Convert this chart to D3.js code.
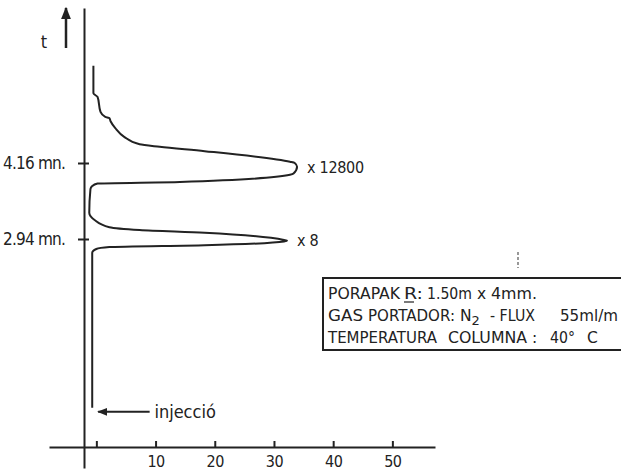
<!DOCTYPE html>
<html>
<head>
<meta charset="utf-8">
<script src="https://cdn.jsdelivr.net/npm/d3@7"></script>
<style>
  body { margin: 0; background: #fff; }
  svg text { font-family: "DejaVu Sans Condensed", "DejaVu Sans", sans-serif; fill: #222; }
  svg text.info { font-family: "DejaVu Sans", sans-serif; }
</style>
</head>
<body>
<div id="chart"></div>
<script>
const width = 621, height = 475;

// chromatogram trace: [time (min), signal]
const traceTime = [5.72, 5.28, 5.22, 4.98, 4.90, 4.88, 4.83, 4.72, 4.58, 4.46, 4.42, 4.35, 4.18, 4.16, 4.10, 3.99, 3.97, 3.855, 3.83, 3.79, 3.74, 3.36, 3.245, 3.13, 3.085, 3.04, 2.925, 2.915, 2.90, 2.84, 2.81, 2.78, 2.72, 2.60, 0.23];
const traceSignal = [-0.5, -0.5, 0.2, 0.7, 1.5, 2.2, 2.4, 3.2, 4.7, 7.3, 10.7, 18.3, 32.7, 33.5, 33.9, 33.3, 32.7, 14.1, 0.2, -0.7, -1.0, -1.2, -0.3, 2.2, 7.3, 18.3, 31.7, 32.2, 31.7, 18.3, 2.2, 0.0, -0.7, -0.7, -0.7];

const xTicks = [0, 10, 20, 30, 40, 50];
const timeTicks = [2.94, 4.16];
const timeTickLabels = ["2.94 mn.", "4.16 mn."];
const peakTimes = [4.10, 2.92];
const peakSignals = [33.9, 32.2];
const peakLabels = ["x 12800", "x 8"];
const injectionTime = 0.165;
const injectionLabel = "injecció";

// info box text, one array of words per line
const infoWords = [
  ["PORAPAK", "R:", "1.50m", "x", "4mm."],
  ["GAS", "PORTADOR:", "N", "- FLUX", "55ml/m"],
  ["TEMPERATURA", "COLUMNA", ":", "40°", "C"]
];
// layout of the words: left x and fitted width in pixels (0 = natural width)
const infoWordX = [
  [328, 404, 427, 477, 491],
  [328, 368, 460, 490, 560],
  [328, 448, 532, 550, 587]
];
const infoWordW = [
  [72, 19, 45, 0, 46],
  [35, 87, 0, 45, 58],
  [109, 79, 0, 25, 0]
];

const svg = d3.select("#chart").append("svg")
  .attr("width", width)
  .attr("height", height);

const x = d3.scaleLinear().domain([-8, 57.2]).range([49, 435]);
const y = d3.scaleLinear().domain([-0.736, 6.648]).range([468, 8]);

const ink = "#222";

// x axis
const xAxisY = 447;
const xAxis = svg.append("g")
  .attr("transform", `translate(0, ${xAxisY})`)
  .call(d3.axisBottom(x).tickValues(xTicks).tickSizeInner(-6).tickSizeOuter(0).tickPadding(9)
    .tickFormat(d => d === 0 ? "" : d));
xAxis.select(".domain").attr("stroke", ink).attr("stroke-width", 2);
xAxis.selectAll(".tick line").attr("stroke", ink).attr("stroke-width", 2);
xAxis.selectAll(".tick text").attr("font-size", 16).style("fill", ink).attr("letter-spacing", -0.5);

// y (time) axis
const yAxisX = 84;
const yAxis = svg.append("g")
  .attr("transform", `translate(${yAxisX}, 0)`)
  .call(d3.axisLeft(y).tickValues(timeTicks).tickSizeOuter(0).tickSizeInner(6).tickPadding(13)
    .tickFormat((d, i) => timeTickLabels[i]));
yAxis.select(".domain").attr("stroke", ink).attr("stroke-width", 2);
yAxis.selectAll(".tick line").attr("stroke", ink).attr("stroke-width", 2).attr("x1", 5);
yAxis.selectAll(".tick text").attr("font-size", 17).style("fill", ink).attr("letter-spacing", -0.8);

// time arrow
svg.append("defs").append("marker")
  .attr("id", "head")
  .attr("viewBox", "0 0 10 10")
  .attr("refX", 9).attr("refY", 5)
  .attr("markerWidth", 5).attr("markerHeight", 5)
  .attr("orient", "auto")
  .append("path").attr("d", "M0,1 L10,5 L0,9 Z").attr("fill", ink);

svg.append("line")
  .attr("x1", 66).attr("x2", 66)
  .attr("y1", 48).attr("y2", 8)
  .attr("stroke", ink).attr("stroke-width", 2.5)
  .attr("marker-end", "url(#head)");
svg.append("text").attr("x", 44).attr("y", 48).attr("text-anchor", "middle")
  .attr("font-size", 18).text("t");

// trace
const traceData = traceTime.map((t, i) => ({ t: t, v: traceSignal[i] }));
const line = d3.line().x(d => x(d.v)).y(d => y(d.t)).curve(d3.curveMonotoneY);
svg.append("path")
  .datum(traceData)
  .attr("d", line)
  .attr("fill", "none")
  .attr("stroke", ink)
  .attr("stroke-width", 2)
  .attr("stroke-linejoin", "round");

// peak labels
svg.selectAll(".peak-label")
  .data(peakLabels)
  .join("text")
  .attr("class", "peak-label")
  .attr("x", (d, i) => x(peakSignals[i]) + 10)
  .attr("y", (d, i) => y(peakTimes[i]) + 6)
  .attr("font-size", 16)
  .attr("letter-spacing", -0.3)
  .text(d => d);

// injection arrow
svg.append("line")
  .attr("x1", x(9)).attr("x2", x(0.3))
  .attr("y1", y(injectionTime)).attr("y2", y(injectionTime))
  .attr("stroke", ink).attr("stroke-width", 2)
  .attr("marker-end", "url(#head)");
svg.append("text")
  .attr("x", x(9.8)).attr("y", y(injectionTime) + 6)
  .attr("font-size", 18)
  .text(injectionLabel);

// info box
svg.append("line")
  .attr("x1", 518).attr("x2", 518).attr("y1", 252).attr("y2", 268)
  .attr("stroke", "#555").attr("stroke-width", 1.2).attr("stroke-dasharray", "3,2");
svg.append("rect")
  .attr("x", 323).attr("y", 278)
  .attr("width", 320).attr("height", 72)
  .attr("fill", "none").attr("stroke", ink).attr("stroke-width", 2);

const infoBaselines = [299, 321, 342.5];
infoWords.forEach((words, li) => {
  const g = svg.append("g").attr("class", "info-line");
  words.forEach((w, wi) => {
    const t = g.append("text")
      .attr("class", "info")
      .attr("x", infoWordX[li][wi])
      .attr("y", infoBaselines[li])
      .attr("font-size", 15.5)
      .text(w);
    if (infoWordW[li][wi] > 0) {
      t.attr("textLength", infoWordW[li][wi]).attr("lengthAdjust", "spacingAndGlyphs");
    }
    if (li === 1 && wi === 2) {
      // N with subscript 2
      t.append("tspan").attr("dy", 4).attr("font-size", 13).text("2");
    }
  });
});
// underline under R
svg.append("line")
  .attr("x1", 404).attr("x2", 414).attr("y1", 302).attr("y2", 302)
  .attr("stroke", ink).attr("stroke-width", 1.2);
</script>
</body>
</html>
